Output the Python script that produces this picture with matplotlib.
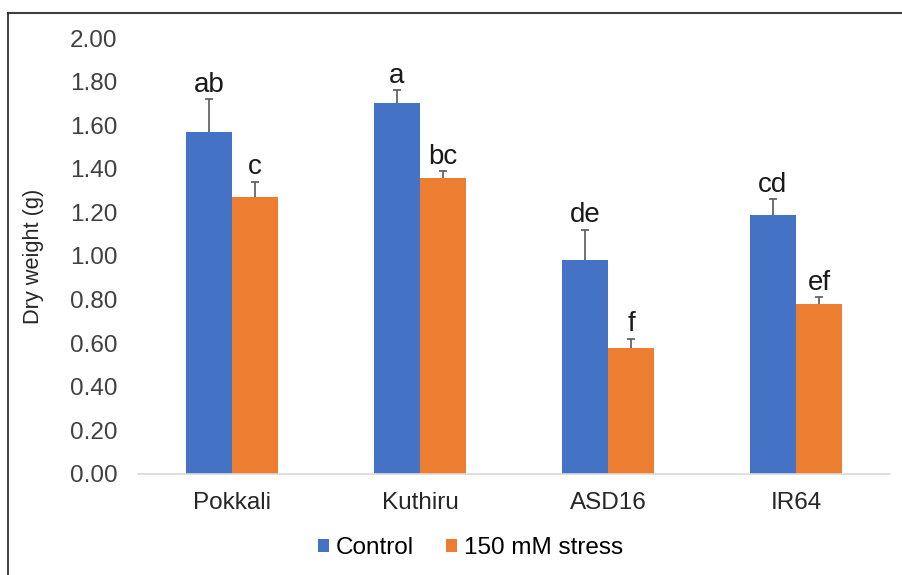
import numpy as np
import matplotlib
matplotlib.use('Agg')
import matplotlib.pyplot as plt
from matplotlib.lines import Line2D
from matplotlib import rcParams

rcParams['font.family'] = ['Liberation Sans', 'DejaVu Sans']

# Data
varieties = ['Pokkali', 'Kuthiru', 'ASD16', 'IR64']
control = [1.57, 1.70, 0.98, 1.19]
control_err = [0.15, 0.06, 0.14, 0.07]
stress = [1.27, 1.36, 0.58, 0.78]
stress_err = [0.07, 0.03, 0.04, 0.03]
control_letters = ['ab', 'a', 'de', 'cd']
stress_letters = ['c', 'bc', 'f', 'ef']

blue = '#4472C4'
orange = '#ED7D31'

fig = plt.figure(figsize=(9.03, 5.75), dpi=100)
ax = fig.add_axes([0.1528, 0.1757, 0.8328, 0.7582])

x = np.arange(len(varieties))
w = 0.245


def draw_bars(pos, vals, errs, color, label):
    bars = ax.bar(pos, vals, w, color=color, label=label,
                  yerr=[np.zeros(len(vals)), errs], capsize=3,
                  error_kw=dict(ecolor='#595959', elinewidth=1.2, capthick=1.2))
    # hide the cap sitting on the bar top (only upper error shown)
    caps = bars.errorbar.lines[1]
    for cap in caps:
        if np.allclose(cap.get_ydata(), vals):
            cap.set_visible(False)
    return bars


draw_bars(x - w / 2, control, control_err, blue, 'Control')
draw_bars(x + w / 2, stress, stress_err, orange, '150 mM stress')

# significance letters above error bars
for i in range(len(varieties)):
    ax.annotate(control_letters[i], (x[i] - w / 2, control[i] + control_err[i]),
                xytext=(0, 1), textcoords='offset points', ha='center', va='bottom',
                fontsize=20, color='#1a1a1a')
    ax.annotate(stress_letters[i], (x[i] + w / 2, stress[i] + stress_err[i]),
                xytext=(0, 1), textcoords='offset points', ha='center', va='bottom',
                fontsize=20, color='#1a1a1a')

ax.set_xlim(-0.5, 3.5)
ax.set_ylim(0, 2.0)
ax.set_yticks(np.arange(0, 2.01, 0.2))
ax.set_yticklabels([f'{v:.2f}' for v in np.arange(0, 2.01, 0.2)])
ax.set_xticks(x)
ax.set_xticklabels(varieties)
ax.tick_params(axis='y', length=0, pad=15, labelsize=17.5, colors='#404040')
ax.tick_params(axis='x', length=0, pad=13, labelsize=17.5, colors='#262626')
for s in ['top', 'right', 'left']:
    ax.spines[s].set_visible(False)
ax.spines['bottom'].set_color('#d9d9d9')
ax.spines['bottom'].set_linewidth(1.2)

ax.set_ylabel('Dry weight (g)', fontsize=15.7, color='#262626')
ax.yaxis.set_label_coords(-0.125, 0.5)

fig.legend(loc='center', bbox_to_anchor=(0.521, 0.047), ncol=2, frameon=False,
           fontsize=17.5, handlelength=0.45, handleheight=0.45, handletextpad=0.3,
           columnspacing=1.3)

# outer frame (top and left edges)
fig.add_artist(Line2D([0.009, 1.0], [0.977, 0.977], color='#404040', lw=1.5,
                      transform=fig.transFigure))
fig.add_artist(Line2D([0.009, 0.009], [0.0, 0.977], color='#202020', lw=1.2,
                      transform=fig.transFigure))

fig.savefig('out.png', dpi=100)
